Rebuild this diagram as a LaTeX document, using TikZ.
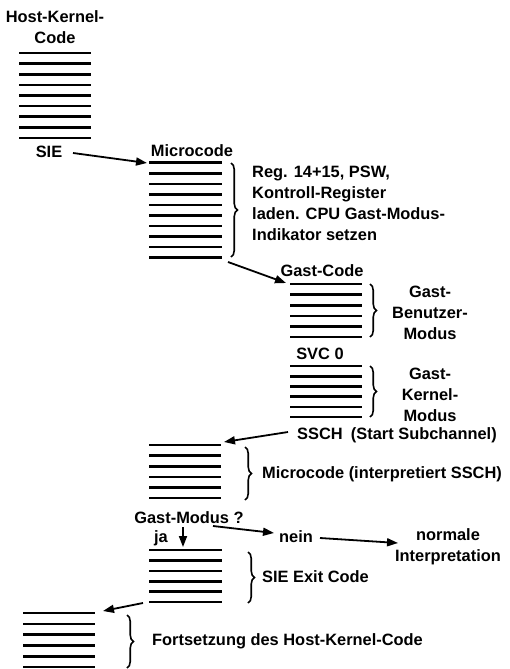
\documentclass[tikz,border=0pt]{standalone}
\usepackage{fontspec}
\setmainfont{Liberation Sans}
\usetikzlibrary{arrows.meta,decorations.pathreplacing}

% a stack of horizontal code lines: x1, x2, y of first line, y of last line, count
\newcommand\codestack[5]{%
  \foreach \i in {1,...,#5}{%
    \pgfmathsetmacro\yy{#3+(\i-1)*(#4-#3)/(#5-1)}%
    \draw[stackline] (#1,\yy) -- (#2,\yy);
  }%
}

\tikzset{
  stackline/.style={line width=2.6pt},
  flow/.style={line width=1.8pt, -{Triangle[length=11pt,width=8pt]}},
  curly/.style={line width=1.6pt, decorate, decoration={brace, amplitude=6.5pt}},
  lbl/.style={inner sep=0pt, font=\fontsize{16.4}{20.8}\selectfont\bfseries},
}

\begin{document}
\begin{tikzpicture}[x=1pt, y=-1pt]
  \useasboundingbox (0,0) rectangle (509,669);

  % host kernel code
  \node[lbl, align=center] (host) at (55,27) {Host-Kernel-\\Code};
  \codestack{19}{91}{53}{138}{9}
  \node[lbl] (sie) at (49,152) {SIE};

  % microcode entering the guest
  \node[lbl] (mc1) at (192,151) {Microcode};
  \codestack{149}{222}{162.7}{257.7}{10}
  \draw[curly] (231,163) -- (231,257);
  \node[lbl, anchor=west, align=left] (mc1txt) at (252,203.5)
    {Reg. 14+15, PSW,\\Kontroll-Register\\laden. CPU Gast-Modus-\\Indikator setzen};
  \coordinate (siestart) at (73,153);
  \coordinate (mc1in) at (147,163);
  \draw[flow] (siestart) -- (mc1in);

  % guest code
  \node[lbl] (gc) at (322,271) {Gast-Code};
  \codestack{290}{362}{284}{337}{6}
  \draw[curly] (370,284) -- (370,337);
  \node[lbl, align=center] (gb) at (430,313) {Gast-\\Benutzer-\\Modus};
  \coordinate (mc1out) at (228,262);
  \coordinate (gcin) at (286,283);
  \draw[flow] (mc1out) -- (gcin);

  \node[lbl] (svc) at (320,354) {SVC 0};
  \codestack{290}{362}{366}{417}{6}
  \draw[curly] (370,366) -- (370,417);
  \node[lbl, align=center] (gk) at (430,395) {Gast-\\Kernel-\\Modus};

  % SSCH interpreted by microcode
  \node[lbl, anchor=west] (ssch) at (297,435) {SSCH\hspace{0.5em}(Start Subchannel)};
  \coordinate (sschstart) at (288,432);
  \coordinate (mc2in) at (224,442);
  \draw[flow] (sschstart) -- (mc2in);
  \codestack{149}{221}{445}{498}{6}
  \draw[curly] (245,447) -- (245,500);
  \node[lbl, anchor=west] (mc2txt) at (262,474) {Microcode (interpretiert SSCH)};

  % guest mode decision
  \node[lbl] (gm) at (189,518) {Gast-Modus ?};
  \node[lbl] (ja) at (161,538) {ja};
  \node[lbl] (nein) at (296,537) {nein};
  \node[lbl, align=center] (norm) at (448,547) {normale\\Interpretation};
  \coordinate (jatop) at (183,527);
  \coordinate (exitin) at (183,547);
  \draw[flow] (jatop) -- (exitin);
  \coordinate (gmout) at (213,526);
  \coordinate (neinin) at (274,533);
  \draw[flow] (gmout) -- (neinin);
  \coordinate (neinout) at (320,538);
  \coordinate (normin) at (398,543);
  \draw[flow] (neinout) -- (normin);

  % SIE exit code
  \codestack{149}{222}{550}{602}{6}
  \draw[curly] (248,552) -- (248,603);
  \node[lbl, anchor=west] (exit) at (262,577) {SIE Exit Code};

  % back to the host kernel
  \coordinate (exitout) at (143,603);
  \coordinate (hostin) at (103,611);
  \draw[flow] (exitout) -- (hostin);
  \codestack{23}{95}{613}{667}{6}
  \draw[curly] (127,615) -- (127,668);
  \node[lbl, anchor=west] (cont) at (152,641) {Fortsetzung des Host-Kernel-Code};
\end{tikzpicture}
\end{document}
